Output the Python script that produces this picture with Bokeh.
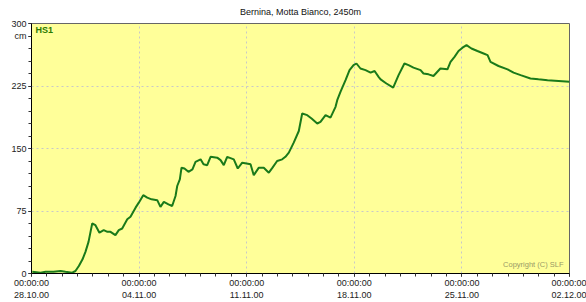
from bokeh.plotting import figure
from bokeh.models import Range1d, FixedTicker, Label
from bokeh.embed import file_html
from bokeh.resources import INLINE

# days since 28.10.00 00:00 and snow height (cm)
days = [0.05, 0.59, 0.91, 1.43, 1.89, 2.21, 2.65, 2.86, 3.08, 3.32, 3.51, 3.71, 3.84, 3.95,
        4.16, 4.42, 4.70, 4.94, 5.14, 5.46, 5.68, 5.90, 6.23, 6.44, 6.77, 6.98, 7.27, 7.53,
        7.81, 8.18, 8.39, 8.61, 8.91, 9.15, 9.37, 9.48, 9.65, 9.76, 9.95, 10.21, 10.47, 10.67,
        11.0, 11.19, 11.43, 11.65, 12.08, 12.30, 12.51, 12.73, 13.16, 13.42, 13.71, 13.99,
        14.25, 14.46, 14.79, 15.11, 15.44, 15.68, 15.98, 16.31, 16.52, 16.74, 17.06, 17.39,
        17.61, 17.94, 18.22, 18.59, 18.80, 19.13, 19.45, 19.78, 19.89, 20.10, 20.43, 20.69,
        20.95, 21.14, 21.40, 21.73, 22.06, 22.32, 22.58, 22.71, 23.09, 23.53, 23.88, 24.26,
        24.53, 24.85, 25.31, 25.50, 25.83, 26.15, 26.60, 27.06, 27.26, 27.52, 27.78, 28.04,
        28.30, 28.62, 29.01, 29.41, 29.67, 29.86, 30.38, 30.97, 31.36, 31.82, 32.46, 32.98,
        33.57, 34.29, 35.0]
hs1 = [2, 1, 2, 2, 3, 2, 1, 3, 9, 17, 26, 38, 50, 60,
       58, 49, 52, 50, 50, 46, 52, 54, 65, 68, 79, 85, 94, 91,
       89, 88, 80, 86, 83, 81, 93, 105, 113, 127, 126, 122, 125, 134,
       137, 131, 130, 140, 139, 136, 130, 140, 137, 126, 133, 132,
       131, 118, 127, 127, 121, 127, 135, 137, 140, 145, 157, 171,
       192, 190, 186, 180, 182, 190, 187, 200, 208, 218, 232, 244,
       250, 252, 246, 244, 241, 243, 236, 233, 228, 223, 238, 252,
       250, 247, 244, 240, 239, 237, 246, 245, 254, 260, 267, 271,
       274, 270, 267, 264, 262, 254, 249, 245, 241, 238, 234, 233,
       232, 231, 230]

x_ticks = [0, 7, 14, 21, 28, 35]
x_labels = ["00:00:00\n28.10.00", "00:00:00\n04.11.00", "00:00:00\n11.11.00",
            "00:00:00\n18.11.00", "00:00:00\n25.11.00", "00:00:00\n02.12.00"]
y_ticks = [0, 75, 150, 225, 300]
unit_tick = 285
unit_text = "cm"

title_text = "Bernina, Motta Bianco, 2450m"
series_name = "HS1"
copyright_text = "Copyright (C) SLF"

FONT = "Liberation Sans"

p = figure(width=586, height=302, output_backend="svg", toolbar_location=None,
           x_range=Range1d(0, 35), y_range=Range1d(0, 300), title=title_text,
           min_border_left=31, min_border_top=23, min_border_right=17, min_border_bottom=27)
p.background_fill_color = "#ffff99"
p.border_fill_color = "white"
p.outline_line_color = "#666666"
p.outline_line_width = 1

p.title.align = "center"
p.title.vertical_align = "top"
p.title.text_font = FONT
p.title.text_font_size = "9px"
p.title.text_font_style = "normal"
p.title.text_color = "#111111"
p.title.standoff = 10

p.xaxis.ticker = FixedTicker(ticks=x_ticks, minor_ticks=list(range(0, 36)))
p.xaxis.major_label_overrides = {t: l for t, l in zip(x_ticks, x_labels)}
p.yaxis.ticker = FixedTicker(ticks=y_ticks + [unit_tick], minor_ticks=list(range(0, 301, 15)))
p.yaxis.major_label_overrides = {unit_tick: unit_text}
p.xgrid.ticker = FixedTicker(ticks=x_ticks)
p.ygrid.ticker = FixedTicker(ticks=y_ticks)

for ax in (p.xaxis[0], p.yaxis[0]):
    ax.axis_line_color = "black"
    ax.major_tick_line_color = "black"
    ax.minor_tick_line_color = "#333333"
    ax.major_tick_out = 3
    ax.major_tick_in = 0
    ax.minor_tick_out = 3
    ax.minor_tick_in = 0
    ax.major_label_text_font = FONT
    ax.major_label_text_font_size = "9px"
    ax.major_label_text_color = "#222222"
    ax.major_label_standoff = 2
p.xaxis.major_label_standoff = 1

p.xgrid.grid_line_color = "#c8c8c8"
p.xgrid.grid_line_dash = "2 3"
p.ygrid.grid_line_color = "#c8c8c8"
p.ygrid.grid_line_dash = "2 3"

p.line(days, hs1, line_color="#1a7a1a", line_width=2)

p.add_layout(Label(x=0, y=300, text=series_name, text_align="left", text_baseline="top",
                   x_offset=4, y_offset=-1, text_font=FONT, text_font_size="9px",
                   text_font_style="bold", text_color="#2a7a00"))
p.add_layout(Label(x=35, y=0, text=copyright_text, text_align="right", text_baseline="bottom",
                   x_offset=-6, y_offset=5, text_font=FONT, text_font_size="7.5px",
                   text_color="#999966"))

open("out.html", "w").write(file_html(p, INLINE))
